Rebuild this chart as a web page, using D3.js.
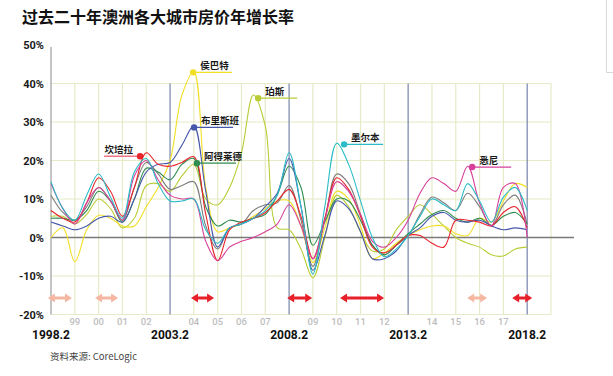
<!DOCTYPE html>
<html>
<head>
<meta charset="utf-8">
<script src="https://cdn.jsdelivr.net/npm/d3@7"></script>
<style>
  body { margin: 0; background: #fff; }
  text { font-family: Roboto, "Noto Sans CJK SC", sans-serif; }
  .cjk { font-family: "Noto Sans CJK SC", sans-serif; }
</style>
</head>
<body>
<div id="chart"></div>
<script>
// Half-year sample points, 1998.2 .. 2018.2 (41 points).
var times = d3.range(41).map(function(i) { return 1998.2 + i / 2; });

// Annual growth (%).
var melbourne = [14.5, 7.5, 4.5, 11, 16.5, 10.5, 5, 17, 20.5, 14, 9.5, 9.5, 10, 2, -1.5, 2.5, 3.5, 5, 7, 11,
                 22, 8, -9.5, 8, 24.5, 19, 9.5, 0, -5, -3, 0.5, 5.5, 10, 8.5, 7, 14, 9.5, 4, 10.5, 13, 7];
var sydney    = [14, 7.5, 3.5, 9, 13, 9.5, 4.5, 16, 20, 15, 11, 10, 10, -1, -6, -2.5, -1, 0, 1.5, 3.5,
                 8.5, 3, -5.5, 4.5, 14.5, 12, 6, -1, -2.5, 0, 4.5, 11.5, 15.5, 14, 12, 18.5, 9, 3, 13, 14, 0];
var capitals  = [11, 6.5, 4.5, 8, 13, 9.5, 4.5, 13, 19.5, 16.5, 12.5, 13.5, 14.5, 3, -3, 2.5, 3.5, 7, 8.5, 9,
                 13.5, 4.5, -7.5, 4.5, 16.5, 14, 6, -2, -4.5, -2, 0.5, 6, 10.5, 9, 7, 11.5, 8, 3, 8.5, 11, 3.5];
var canberra  = [7, 5, 4, 9, 15.5, 12, 5.5, 13, 22, 19, 18.5, 19.5, 21, 6, -6, 2, 4, 5, 6.5, 9.5,
                 12.5, 5.5, -5.5, 5, 15.5, 12.5, 5.5, -2.5, -4, -2, 0.5, 0.5, -1.5, -2.5, 4.5, 4.5, 4, 3, 6.5, 8, 2.5];
var adelaide  = [5, 5, 4.5, 7, 12, 9.5, 4, 10, 18, 17, 15, 19, 20.5, 8, 3, 4.5, 4, 5, 6, 11,
                 18.5, 13, -2, 4, 10, 9.5, 4.5, -2, -4.5, -2, 1, 3.5, 6, 7, 5, 4, 5, 3.2, 5.5, 6.5, 3.5];
var brisbane  = [4, 3, 2, 3, 5, 5.5, 4, 10, 17, 19, 19.5, 24, 29, 12, -2.5, 2.5, 3.5, 5, 8, 11.5,
                 20.5, 8, -8.5, 0.5, 9.5, 7.5, 1.5, -5.5, -5.5, -3.5, 0.5, 2.5, 5.5, 6.5, 4.5, 4, 4.5, 3, 2, 2.5, 2];
var hobart    = [0, 2.5, -6.3, 2, 5.8, 5, 3, 3, 8, 13, 20, 37, 43, 13, 1.5, 2.5, 3.5, 5.5, 7.5, 9.5,
                 9.5, 3, -6.5, 2.5, 12, 10, 3, -5.5, -4, -1.5, 0.5, 2, 3, 3, 1, 0.5, 5, 4, 9.5, 14, 13];
var perth     = [5.5, 5.5, 3.5, 6, 10, 7.5, 2.5, 5, 13.5, 14, 12, 16, 19, 10, 8.5, 13, 22, 37, 29, 2.5,
                 2, -3, -10.5, 0, 11, 8, 1.5, -3.5, -3, 2, 5.5, 8.5, 6, 3, 0, -1.5, -2.5, -4.5, -4.8, -3, -2.5];

var series = [
    { name: "珀斯", values: perth, color: "#b9cc36" },
    { name: "侯巴特", values: hobart, color: "#f2df25" },
    { name: "全国", values: capitals, color: "#7d7d7d" },
    { name: "阿得莱德", values: adelaide, color: "#2f8c4f" },
    { name: "布里斯班", values: brisbane, color: "#4757ab" },
    { name: "坎培拉", values: canberra, color: "#e8242c" },
    { name: "悉尼", values: sydney, color: "#d6409a" },
    { name: "墨尔本", values: melbourne, color: "#2bbcc8" }
];

// Callouts: where the dot sits (year, %).
var labelNames  = ["侯巴特", "布里斯班", "阿得莱德", "坎培拉", "珀斯", "墨尔本", "悉尼"];
var labelYears  = [2004.17, 2004.21, 2004.33, 2001.94, 2006.9, 2010.51, 2015.89];
var labelValues = [42.9, 28.6, 19.3, 21.1, 36.2, 24.2, 18.3];

// Rate-change arrows (start, end, strong or light).
var arrowStarts = [1998.07, 2000.05, 2004.08, 2008.12, 2010.34, 2015.68, 2017.57];
var arrowEnds   = [1999.08, 2001.02, 2005.05, 2009.17, 2012.19, 2016.52, 2018.41];
var arrowStrong = [false, false, true, true, true, false, true];

var yTicks = [50, 40, 30, 20, 10, 0, -10, -20];
var majorYears = [1998, 2003, 2008, 2013, 2018];
var minorYears = [1999, 2000, 2001, 2002, 2004, 2005, 2006, 2007, 2009, 2010, 2011, 2012, 2014, 2015, 2016, 2017];

var width = 613,
    height = 376;

var svg = d3.select("#chart")
    .append("svg")
    .attr("width", width)
    .attr("height", height);

var x = d3.scaleLinear().domain([1998.2, 2019.2]).range([51, 551]);
var y = d3.scaleLinear().domain([-20, 50]).range([314.5, 45]);

// Title
svg.append("text")
    .attr("class", "cjk")
    .attr("x", 22).attr("y", 23)
    .style("font-size", "16px").style("font-weight", "bold").style("fill", "#111")
    .text("过去二十年澳洲各大城市房价年增长率");

// small border piece at top right
svg.append("path")
    .attr("d", "M606.5,0V72.5H613")
    .attr("fill", "none").attr("stroke", "#d8d8d8");

var grid = svg.append("g");

// vertical minor grid (every year, incl. right edge)
grid.selectAll(".vgrid")
    .data(minorYears.concat([2019]))
    .enter().append("line")
    .attr("x1", function(d) { return x(d + 0.2); })
    .attr("x2", function(d) { return x(d + 0.2); })
    .attr("y1", y(40)).attr("y2", y(-20))
    .attr("stroke", "#e6eac6").attr("stroke-width", 1.2);

// horizontal grid
grid.selectAll(".hgrid")
    .data([40, 30, 20, 10, -10, -20])
    .enter().append("line")
    .attr("x1", x(1998.2)).attr("x2", x(2019.2))
    .attr("y1", function(d) { return y(d); })
    .attr("y2", function(d) { return y(d); })
    .attr("stroke", "#e6eac6").attr("stroke-width", 1.2);

// the 5-year marker lines
grid.selectAll(".major")
    .data(majorYears.slice(1))
    .enter().append("line")
    .attr("x1", function(d) { return x(d + 0.2); })
    .attr("x2", function(d) { return x(d + 0.2); })
    .attr("y1", y(40)).attr("y2", y(-20))
    .attr("stroke", "#7784aa").attr("stroke-width", 1.2);

// y axis + zero line
svg.append("line")
    .attr("x1", x(1998.2)).attr("x2", x(1998.2))
    .attr("y1", 47).attr("y2", y(-20))
    .attr("stroke", "#8a8a8a");
svg.append("line")
    .attr("x1", x(1998.2)).attr("x2", 574)
    .attr("y1", y(0)).attr("y2", y(0))
    .attr("stroke", "#7a7a7a").attr("stroke-width", 1.3);

// y labels
svg.selectAll(".ylab")
    .data(yTicks)
    .enter().append("text")
    .attr("x", 44)
    .attr("y", function(d) { return y(d) + 4; })
    .attr("text-anchor", "end")
    .style("font-size", "11px").style("font-weight", "bold").style("fill", "#1a1a1a")
    .text(function(d) { return d + "%"; });

// x labels
svg.selectAll(".xminor")
    .data(minorYears)
    .enter().append("text")
    .attr("x", function(d) { return x(d + 0.2); })
    .attr("y", 325)
    .attr("text-anchor", "middle")
    .style("font-size", "9.5px").style("font-weight", "500").style("fill", "#bdbdbd")
    .text(function(d) { return String(d).slice(2); });

svg.selectAll(".xmajor")
    .data(majorYears)
    .enter().append("text")
    .attr("x", function(d) { return x(d + 0.2); })
    .attr("y", 339)
    .attr("text-anchor", "middle")
    .style("font-size", "12px").style("font-weight", "bold").style("fill", "#111")
    .text(function(d) { return d + ".2"; });

// source
svg.append("text")
    .attr("class", "cjk")
    .attr("x", 50).attr("y", 360)
    .style("font-size", "9.5px").style("fill", "#444")
    .text("资料来源: CoreLogic");

// arrows
var ay = 298;
svg.selectAll(".arrow")
    .data(arrowStarts)
    .enter().append("path")
    .attr("d", function(d, i) {
        var x0 = x(d), x1 = x(arrowEnds[i]), h = 7;
        return "M" + x0 + "," + ay +
            "L" + (x0 + h) + "," + (ay - 4.5) + "L" + (x0 + h) + "," + (ay - 1.5) +
            "L" + (x1 - h) + "," + (ay - 1.5) + "L" + (x1 - h) + "," + (ay - 4.5) +
            "L" + x1 + "," + ay +
            "L" + (x1 - h) + "," + (ay + 4.5) + "L" + (x1 - h) + "," + (ay + 1.5) +
            "L" + (x0 + h) + "," + (ay + 1.5) + "L" + (x0 + h) + "," + (ay + 4.5) + "Z";
    })
    .attr("fill", function(d, i) { return arrowStrong[i] ? "#e8202a" : "#f6b7a2"; });

// the lines
var line = d3.line()
    .x(function(d, i) { return x(times[i]); })
    .y(function(d) { return y(d); })
    .curve(d3.curveCatmullRom.alpha(0.5));

svg.append("g").selectAll("path")
    .data(series)
    .enter().append("path")
    .attr("d", function(d) { return line(d.values); })
    .attr("fill", "none")
    .attr("stroke", function(d) { return d.color; })
    .attr("stroke-width", 1.1);

// callouts
var colorOf = {};
series.forEach(function(s) { colorOf[s.name] = s.color; });

var callouts = svg.append("g").selectAll("g")
    .data(labelNames)
    .enter().append("g")
    .attr("transform", function(d, i) {
        return "translate(" + x(labelYears[i]) + "," + y(labelValues[i]) + ")";
    });

callouts.append("line")
    .attr("x1", 0)
    .attr("x2", function(d) { return d === "坎培拉" ? -36 : 39; })
    .attr("y1", 0).attr("y2", 0)
    .attr("stroke", function(d) { return d === "坎培拉" ? "#ef7686" : colorOf[d]; })
    .attr("stroke-width", 1.3);

callouts.append("circle")
    .attr("r", 3.2)
    .attr("fill", function(d) { return colorOf[d]; });

callouts.append("text")
    .attr("class", "cjk")
    .attr("x", function(d) { return d === "坎培拉" ? -7 : 7; })
    .attr("y", -3)
    .attr("text-anchor", function(d) { return d === "坎培拉" ? "end" : "start"; })
    .style("font-size", "9.5px").style("font-weight", "bold").style("fill", "#1a1a1a")
    .text(function(d) { return d; });
</script>
</body>
</html>
